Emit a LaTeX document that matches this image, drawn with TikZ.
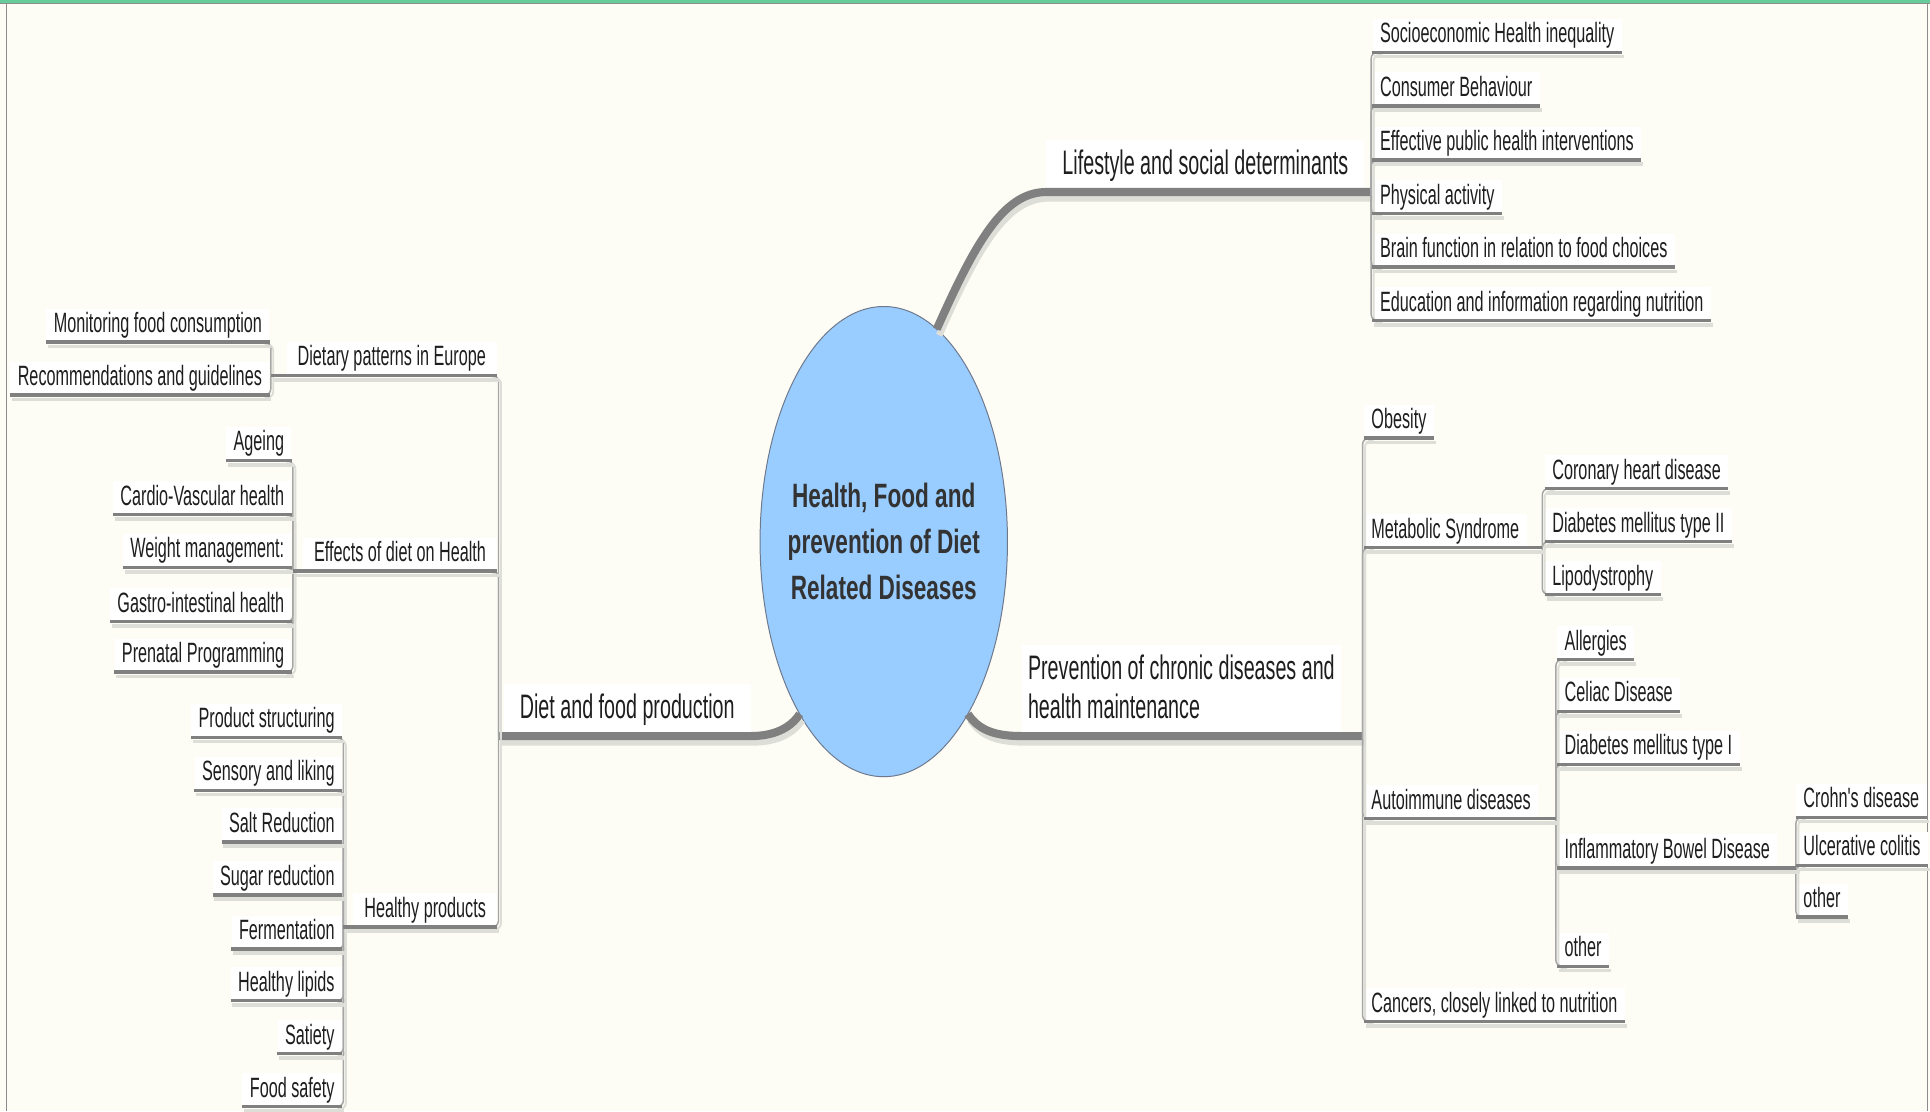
\documentclass[tikz,border=0pt]{standalone}
\usepackage{fontspec}
\setmainfont{Liberation Sans}
\newfontfamily\mapfont[FakeStretch=0.58]{Liberation Sans}
\newfontfamily\hubfont[FakeStretch=0.67]{Liberation Sans}
\usetikzlibrary{shapes.geometric}
\definecolor{paper}{RGB}{253,253,246}
\definecolor{mint}{RGB}{102,204,153}
\definecolor{frame}{RGB}{140,140,140}
\definecolor{hubblue}{RGB}{153,204,255}
\definecolor{hubedge}{RGB}{110,120,140}
\definecolor{stem}{RGB}{128,128,128}
\definecolor{shade}{RGB}{222,222,216}
\definecolor{ink}{RGB}{30,30,30}
\definecolor{hubink}{RGB}{51,51,51}
\tikzset{
  hub/.style={ellipse, draw=hubedge, line width=0.8pt, fill=hubblue,
    minimum width=201pt, minimum height=382pt, inner sep=0pt, outer sep=0pt},
  hubtext/.style={font=\hubfont\bfseries\fontsize{27.4}{37.5}\selectfont,
    text=hubink, align=center, inner sep=0pt},
  branch/.style={font=\mapfont\fontsize{27.6}{32}\selectfont, text=ink, fill=white,
    inner xsep=13pt, inner ysep=7pt, text height=21pt, text depth=7pt},
  leaf/.style={font=\mapfont\fontsize{22.7}{26}\selectfont, text=ink, fill=white,
    inner xsep=6pt, inner ysep=2.5pt, text height=17pt, text depth=5pt},
  stemline/.style={draw=stem, line width=6.6pt,
    preaction={draw=shade, line width=5.5pt, transform canvas={xshift=2pt,yshift=-5pt}}},
  uline/.style={draw=stem, line width=2.8pt,
    preaction={draw=shade, line width=3pt, transform canvas={xshift=1.5pt,yshift=-3.5pt}}},
  conn/.style={draw=stem!70, line width=1.2pt, rounded corners=5pt,
    preaction={draw=shade, line width=1.6pt, transform canvas={xshift=2pt,yshift=-2pt}}},
}
\begin{document}
\begin{tikzpicture}[x=1pt,y=-1pt]
\useasboundingbox (0,0) rectangle (1568,903);
\fill[paper] (0,0) rectangle (1568,903);
\draw[mint,line width=2.6pt] (0,1.3)--(1568,1.3);
\draw[frame,line width=0.8pt] (0,3.2)--(1568,3.2);
\draw[frame,line width=0.8pt] (5,3)--(5,903);
\draw[frame,line width=0.8pt] (1566,3)--(1566,903);

% centre
\node[hub] (hub) at (718,440) {};
\node[hubtext] (title) at (hub.center) {Health, Food and\\prevention of Diet\\Related Diseases};

% main branches
\node[branch,anchor=south west] (life) at (850,156) {Lifestyle and social determinants};
\node[branch,anchor=south west,inner xsep=5pt,text height=53pt] (prev) at (830,598)
  {\vbox{\hbox{Prevention of chronic diseases and}\hbox{health maintenance}}};
\node[branch,anchor=south east] (diet) at (610,598) {Diet and food production};
\coordinate (lifeJ) at (1114,156);
\coordinate (prevJ) at (1107,598);
\coordinate (dietJ) at (405,598);

% lifestyle
\node[leaf,anchor=south west] (soc) at (1115,42.5) {Socioeconomic Health inequality};
\node[leaf,anchor=south west] (cons) at (1115,86) {Consumer Behaviour};
\node[leaf,anchor=south west] (eff) at (1115,130) {Effective public health interventions};
\node[leaf,anchor=south west] (phys) at (1115,173.5) {Physical activity};
\node[leaf,anchor=south west] (brain) at (1115,217) {Brain function in relation to food choices};
\node[leaf,anchor=south west] (edu) at (1115,260.5) {Education and information regarding nutrition};

% prevention
\node[leaf,anchor=south west] (obes) at (1108,356) {Obesity};
\node[leaf,anchor=south west] (meta) at (1108,445) {Metabolic Syndrome};
\node[leaf,anchor=south west] (auto) at (1108,665) {Autoimmune diseases};
\node[leaf,anchor=south west] (canc) at (1108,830) {Cancers, closely linked to nutrition};
\coordinate (metaJ) at (1253,445);
\coordinate (autoJ) at (1264,665);
\node[leaf,anchor=south west] (chd) at (1255,397) {Coronary heart disease};
\node[leaf,anchor=south west] (dm2) at (1255,440) {Diabetes mellitus type II};
\node[leaf,anchor=south west] (lipo) at (1255,483) {Lipodystrophy};
\node[leaf,anchor=south west] (allg) at (1265,536) {Allergies};
\node[leaf,anchor=south west] (celi) at (1265,578) {Celiac Disease};
\node[leaf,anchor=south west] (dm1) at (1265,621) {Diabetes mellitus type I};
\node[leaf,anchor=south west] (ibd) at (1265,705) {Inflammatory Bowel Disease};
\node[leaf,anchor=south west] (othA) at (1265,785) {other};
\coordinate (ibdJ) at (1459,705);
\node[leaf,anchor=south west] (crohn) at (1459,664) {Crohn's disease};
\node[leaf,anchor=south west] (ulc) at (1459,703) {Ulcerative colitis};
\node[leaf,anchor=south west] (othB) at (1459,745) {other};

% diet and food
\node[leaf,anchor=south east,inner xsep=9pt] (dpat) at (404,305) {Dietary patterns in Europe};
\node[leaf,anchor=south east,inner xsep=9pt] (effh) at (404,464) {Effects of diet on Health};
\node[leaf,anchor=south east,inner xsep=9pt] (hprod) at (404,753) {Healthy products};
\coordinate (dpatJ) at (220,305);
\coordinate (effJ) at (238,464);
\coordinate (hprodJ) at (279,753);
\node[leaf,anchor=south east] (mon) at (219,278) {Monitoring food consumption};
\node[leaf,anchor=south east] (rec) at (219,321) {Recommendations and guidelines};
\node[leaf,anchor=south east] (age) at (237,374) {Ageing};
\node[leaf,anchor=south east] (cardio) at (237,418) {Cardio-Vascular health};
\node[leaf,anchor=south east] (weight) at (237,461) {Weight management:};
\node[leaf,anchor=south east] (gastro) at (237,505) {Gastro-intestinal health};
\node[leaf,anchor=south east] (pren) at (237,546) {Prenatal Programming};
\node[leaf,anchor=south east] (pstr) at (278,599) {Product structuring};
\node[leaf,anchor=south east] (sens) at (278,642) {Sensory and liking};
\node[leaf,anchor=south east] (salt) at (278,684) {Salt Reduction};
\node[leaf,anchor=south east] (sugar) at (278,727) {Sugar reduction};
\node[leaf,anchor=south east] (ferm) at (278,771) {Fermentation};
\node[leaf,anchor=south east] (lipid) at (278,813) {Healthy lipids};
\node[leaf,anchor=south east] (sat) at (278,856) {Satiety};
\node[leaf,anchor=south east] (safe) at (278,899) {Food safety};

% thick stems out of the centre
\draw[stemline] (hub.76) .. controls (792,198) and (815,156) .. (life.south west) -- (lifeJ);
\draw[stemline] (hub.-64) .. controls (795,593) and (808,598) .. (prev.south west) -- (prevJ);
\draw[stemline] (hub.-116) .. controls (642,592) and (628,598) .. (diet.south east) -- (dietJ);

% connectors
\foreach \n in {soc,cons,eff,phys,brain,edu}
  \draw[conn] (lifeJ) |- ([xshift=6pt]\n.south west);
\foreach \n in {obes,meta,auto,canc}
  \draw[conn] (prevJ) |- ([xshift=6pt]\n.south west);
\foreach \n in {chd,dm2,lipo}
  \draw[conn] (metaJ) |- ([xshift=6pt]\n.south west);
\foreach \n in {allg,celi,dm1,ibd,othA}
  \draw[conn] (autoJ) |- ([xshift=6pt]\n.south west);
\foreach \n in {crohn,ulc,othB}
  \draw[conn] (ibdJ) |- ([xshift=6pt]\n.south west);
\foreach \n in {dpat,effh,hprod}
  \draw[conn] (dietJ) |- ([xshift=-6pt]\n.south east);
\foreach \n in {mon,rec}
  \draw[conn] (dpatJ) |- ([xshift=-6pt]\n.south east);
\foreach \n in {age,cardio,weight,gastro,pren}
  \draw[conn] (effJ) |- ([xshift=-6pt]\n.south east);
\foreach \n in {pstr,sens,salt,sugar,ferm,lipid,sat,safe}
  \draw[conn] (hprodJ) |- ([xshift=-6pt]\n.south east);

% underlines
\foreach \n in {soc,cons,eff,phys,brain,edu,obes,canc,chd,dm2,lipo,allg,celi,dm1,othA,
  crohn,ulc,othB,mon,rec,age,cardio,weight,gastro,pren,pstr,sens,salt,sugar,ferm,lipid,sat,safe}
  \draw[uline] (\n.south west) -- (\n.south east);
\draw[uline] (meta.south west) -- (metaJ);
\draw[uline] (auto.south west) -- (autoJ);
\draw[uline] (ibd.south west) -- (ibdJ);
\draw[uline] (dpatJ) -- (dpat.south east);
\draw[uline] (effJ) -- (effh.south east);
\draw[uline] (hprodJ) -- (hprod.south east);
\end{tikzpicture}
\end{document}
